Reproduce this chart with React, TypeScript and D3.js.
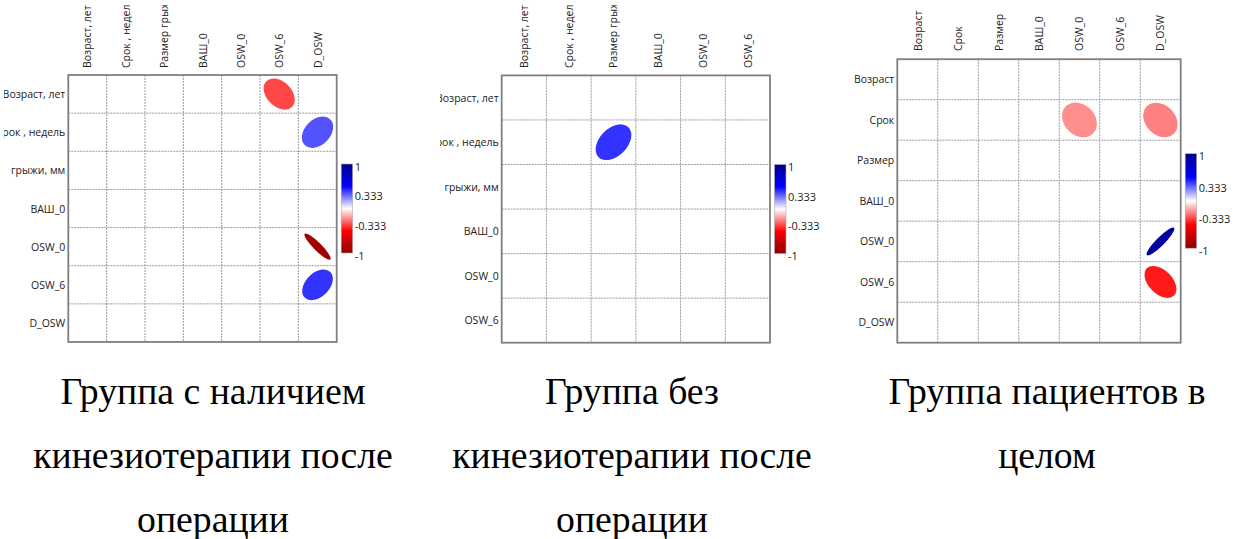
import React from 'react';
import * as d3 from 'd3';

// ---------- data ----------
const vars1 = ['Возраст, лет', 'Срок , недель', 'Размер грыжи, мм', 'ВАШ_0', 'OSW_0', 'OSW_6', 'D_OSW'];
const rowLabels1 = ['Возраст, лет', 'Срок , недель', 'грыжи, мм', 'ВАШ_0', 'OSW_0', 'OSW_6', 'D_OSW'];
const corr1: [string, string, number][] = [
  ['Возраст, лет', 'OSW_6', -0.36],
  ['Срок , недель', 'D_OSW', 0.34],
  ['OSW_0', 'D_OSW', -0.91],
  ['OSW_6', 'D_OSW', 0.4],
];

const vars2 = ['Возраст, лет', 'Срок , недель', 'Размер грыжи, мм', 'ВАШ_0', 'OSW_0', 'OSW_6'];
const rowLabels2 = ['Возраст, лет', 'Срок , недель', 'грыжи, мм', 'ВАШ_0', 'OSW_0', 'OSW_6'];
const corr2: [string, string, number][] = [
  ['Срок , недель', 'Размер грыжи, мм', 0.4],
];

const vars3 = ['Возраст', 'Срок', 'Размер', 'ВАШ_0', 'OSW_0', 'OSW_6', 'D_OSW'];
const rowLabels3 = ['Возраст', 'Срок', 'Размер', 'ВАШ_0', 'OSW_0', 'OSW_6', 'D_OSW'];
const corr3: [string, string, number][] = [
  ['Срок', 'OSW_0', -0.22],
  ['Срок', 'D_OSW', -0.25],
  ['OSW_0', 'D_OSW', 0.91],
  ['OSW_6', 'D_OSW', -0.45],
];

const legendTicks = [1, 0.333, -0.333, -1];
const colorStops = [-1, -0.5, 0, 0.5, 1];
const colorRange = ['#8b0000', '#ff0000', '#ffffff', '#0000ff', '#00008b'];

const caption1 = ['Группа с наличием', 'кинезиотерапии после', 'операции'];
const caption2 = ['Группа без', 'кинезиотерапии после', 'операции'];
const caption3 = ['Группа пациентов в', 'целом'];

// ---------- layout ----------
const color = d3.scaleLinear<string>().domain(colorStops).range(colorRange).interpolate(d3.interpolateRgb);

type PanelProps = {
  id: string;
  vars: string[];
  rowLabels: string[];
  corr: [string, string, number][];
  left: number; right: number; top: number; bottom: number;
  colLabelBottom: number;
  rowClipX: number;
  caption: string[];
  captionX: number;
};

const LABEL_FONT = "'Open Sans', 'Noto Sans', sans-serif";
const LABEL_SIZE = 10.5;

function Panel(p: PanelProps) {
  const x = d3.scaleBand<string>().domain(p.vars).range([p.left, p.right]);
  const y = d3.scaleBand<string>().domain(p.vars).range([p.top, p.bottom]);
  const cw = x.bandwidth();
  const ch = y.bandwidth();
  const gridH = p.bottom - p.top;
  const legH = gridH / 3;
  const legTop = p.top + (gridH - legH) / 2;
  const legX = p.right + 4.5;
  const legW = 11.5;
  const ly = d3.scaleLinear().domain([1, -1]).range([legTop, legTop + legH]);
  const gid = `grad-${p.id}`;
  const stopsTopDown = [...colorStops].sort((a, b) => b - a);
  return (
    <g>
      <defs>
        <clipPath id={`colclip-${p.id}`}>
          <rect x={p.left - 20} y={5} width={p.right - p.left + 40} height={p.colLabelBottom} />
        </clipPath>
        <clipPath id={`rowclip-${p.id}`}>
          <rect x={p.rowClipX} y={p.top} width={p.left - p.rowClipX} height={gridH} />
        </clipPath>
        <linearGradient id={gid} x1="0" y1="0" x2="0" y2="1">
          {stopsTopDown.map((s) => (
            <stop key={s} offset={(1 - s) / 2} stopColor={color(s)} />
          ))}
        </linearGradient>
      </defs>
      {/* column labels */}
      <g clipPath={`url(#colclip-${p.id})`}>
        {p.vars.map((v) => (
          <text
            key={v}
            transform={`translate(${x(v)! + cw / 2},${p.colLabelBottom}) rotate(-90)`}
            textAnchor="start"
            dominantBaseline="central"
            fontFamily={LABEL_FONT}
            fontSize={LABEL_SIZE}
            fill="#222"
          >
            {v}
          </text>
        ))}
      </g>
      {/* row labels */}
      <g clipPath={`url(#rowclip-${p.id})`}>
        {p.vars.map((v, i) => (
          <text
            key={v}
            x={p.left - 3}
            y={y(v)! + ch / 2}
            textAnchor="end"
            dominantBaseline="central"
            fontFamily={LABEL_FONT}
            fontSize={LABEL_SIZE}
            fill="#222"
          >
            {p.rowLabels[i]}
          </text>
        ))}
      </g>
      {/* background */}
      <rect x={p.left} y={p.top} width={p.right - p.left} height={gridH} fill="#fff" />
      {/* grid lines */}
      {p.vars.slice(1).map((v) => (
        <line key={'v' + v} x1={x(v)} x2={x(v)} y1={p.top} y2={p.bottom} stroke="#9a9a9a" strokeWidth={1} strokeDasharray="2,1" />
      ))}
      {p.vars.slice(1).map((v) => (
        <line key={'h' + v} x1={p.left} x2={p.right} y1={y(v)} y2={y(v)} stroke="#9a9a9a" strokeWidth={1} strokeDasharray="2,1" />
      ))}
      {/* ellipses */}
      {p.corr.map(([rv, cv, r]) => {
        const cx = x(cv)! + cw / 2;
        const cy = y(rv)! + ch / 2;
        const a = 0.475 * Math.min(cw, ch);
        const b = a * Math.sqrt((1 - Math.abs(r)) / (1 + Math.abs(r)));
        return (
          <ellipse
            key={rv + cv}
            cx={cx}
            cy={cy}
            rx={a}
            ry={b}
            fill={color(r)}
            transform={`rotate(${r > 0 ? -45 : 45},${cx},${cy})`}
          />
        );
      })}
      {/* border */}
      <rect x={p.left} y={p.top} width={p.right - p.left} height={gridH} fill="none" stroke="#7f7f7f" strokeWidth={1.8} />
      {/* legend */}
      <rect x={legX} y={legTop} width={legW} height={legH} fill={`url(#${gid})`} stroke="#b0b0b0" strokeWidth={0.6} />
      {legendTicks.map((t) => (
        <text
          key={t}
          x={legX + legW + 2}
          y={ly(t) + 2}
          dominantBaseline="central"
          fontFamily={LABEL_FONT}
          fontSize={11}
          fill="#222"
        >
          {String(t)}
        </text>
      ))}
      {/* caption */}
      {p.caption.map((line, i) => (
        <text
          key={i}
          x={p.captionX}
          y={404 + i * 64}
          textAnchor="middle"
          fontFamily="'Liberation Serif', 'Times New Roman', serif"
          fontSize={37.7}
          fill="#000"
        >
          {line}
        </text>
      ))}
    </g>
  );
}

export default function App() {
  return (
    <svg
      width={1242}
      height={539}
      style={{ position: 'absolute', left: 0, top: 0, background: '#fff' }}
    >
      <rect width={1242} height={539} fill="#fff" />
      <Panel id="p1" vars={vars1} rowLabels={rowLabels1} corr={corr1}
        left={68.3} right={336.7} top={75} bottom={342}
        colLabelBottom={68} rowClipX={4} caption={caption1} captionX={213} />
      <Panel id="p2" vars={vars2} rowLabels={rowLabels2} corr={corr2}
        left={501.7} right={770} top={75.4} bottom={342.7}
        colLabelBottom={68} rowClipX={440} caption={caption2} captionX={632} />
      <Panel id="p3" vars={vars3} rowLabels={rowLabels3} corr={corr3}
        left={897.3} right={1180.7} top={59.2} bottom={342.7}
        colLabelBottom={51} rowClipX={840} caption={caption3} captionX={1047} />
    </svg>
  );
}
